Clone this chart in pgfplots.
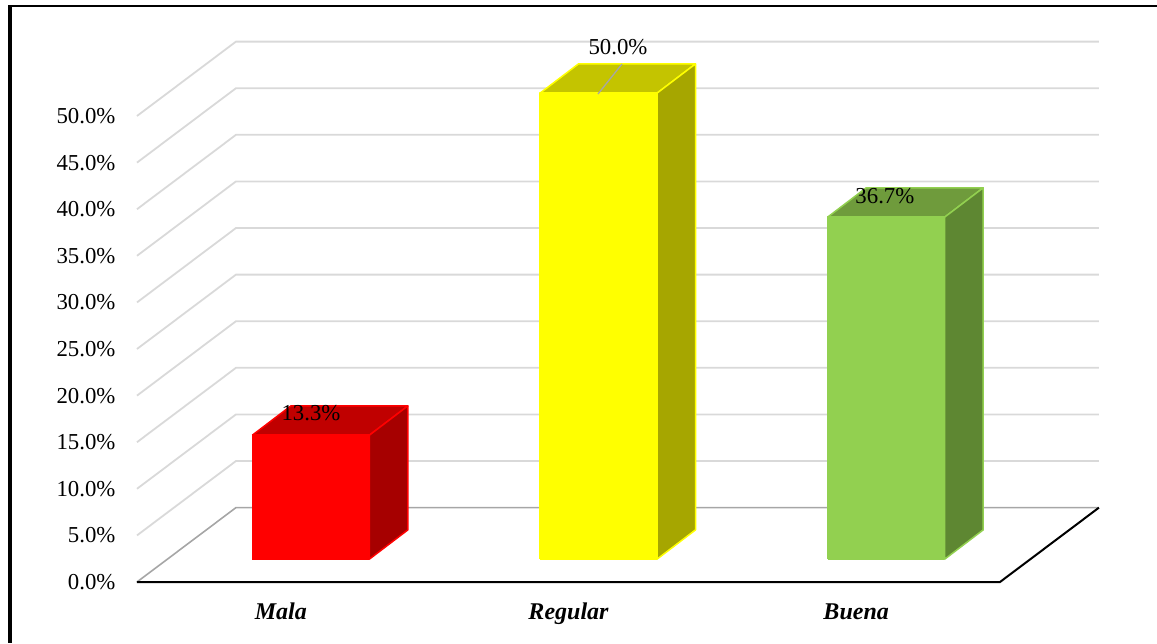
\documentclass[border=0pt]{standalone}
\usepackage{fontspec}
\setmainfont{Liberation Serif}
\usepackage{pgfplots}
\pgfplotsset{compat=1.18}

% Oblique projection of the chart box, in axis units
\def\wallDX{0.344}
\def\wallDY{7.98}
\def\barDX{0.1338}
\def\barDY{3.14}
\def\barOff{0.1043}
\def\barHalf{0.2034}
\def\barBase{2.45}

\definecolor{gridgrey}{HTML}{D9D9D9}
\definecolor{floorgrey}{HTML}{A6A6A6}
\definecolor{redfront}{HTML}{FF0000}
\definecolor{redtop}{HTML}{C00000}
\definecolor{redside}{HTML}{A60000}
\definecolor{yellowfront}{HTML}{FFFF00}
\definecolor{yellowtop}{HTML}{C4C400}
\definecolor{yellowside}{HTML}{A6A600}
\definecolor{greenfront}{HTML}{92D050}
\definecolor{greentop}{HTML}{6F9B3C}
\definecolor{greenside}{HTML}{5E8732}

% Draws one block: category position, value, front, top and side colours
\newcommand{\block}[5]{%
  \pgfmathsetmacro\xa{#1+\barOff-\barHalf}%
  \pgfmathsetmacro\xb{#1+\barOff+\barHalf}%
  \pgfmathsetmacro\xc{\xb+\barDX}%
  \pgfmathsetmacro\xd{\xa+\barDX}%
  \pgfmathsetmacro\ya{\barBase}%
  \pgfmathsetmacro\yb{\barBase+#2}%
  \pgfmathsetmacro\yc{\yb+\barDY}%
  \pgfmathsetmacro\ye{\ya+\barDY}%
  \addplot[forget plot,no marks,draw=#3,fill=#4,line width=1.5pt,line join=round]
    coordinates {(\xa,\yb)(\xb,\yb)(\xc,\yc)(\xd,\yc)(\xa,\yb)};
  \addplot[forget plot,no marks,draw=#3,fill=#5,line width=1.5pt,line join=round]
    coordinates {(\xb,\ya)(\xc,\ye)(\xc,\yc)(\xb,\yb)(\xb,\ya)};
  \addplot[forget plot,no marks,draw=#3,fill=#3,line width=1.5pt,line join=round]
    coordinates {(\xa,\ya)(\xb,\ya)(\xb,\yb)(\xa,\yb)(\xa,\ya)};
}

\begin{document}
\begin{tikzpicture}
\useasboundingbox (-137pt,-61pt) rectangle (1020pt,582pt);
\begin{axis}[
  at={(0pt,0pt)},anchor=south west,
  scale only axis,width=863pt,height=466pt,
  xmin=-0.5,xmax=2.5,ymin=0,ymax=50,
  clip=false,
  axis x line*=bottom,axis y line*=left,
  axis line style={draw=none,-},
  tick style={draw=none},
  xtick={0,1,2},
  xticklabels={Mala,Regular,Buena},
  x tick label style={font=\fontsize{24}{26}\selectfont\bfseries\itshape,anchor=base,yshift=-37pt},
  ytick={0,5,...,50},
  yticklabel={\pgfmathprintnumber[fixed,fixed zerofill,precision=1,assume math mode=true]{\tick}\%},
  y tick label style={font=\fontsize{22.8}{25}\selectfont,xshift=-18pt},
]
% Wall and side grid lines
\pgfplotsinvokeforeach{5,10,...,50}{
  \pgfmathsetmacro\gy{#1+\wallDY}
  \pgfmathsetmacro\gxa{-0.5+\wallDX}
  \pgfmathsetmacro\gxb{2.5+\wallDX}
  \addplot[forget plot,no marks,draw=gridgrey,line width=1.8pt]
    coordinates {(-0.5,#1)(\gxa,\gy)(\gxb,\gy)};
}
% Floor
\addplot[forget plot,no marks,draw=floorgrey,line width=1.6pt]
  coordinates {(-0.5,0)(-0.156,7.98)(2.844,7.98)};
\addplot[forget plot,no marks,draw=black,line width=2pt,line join=miter]
  coordinates {(-0.5,0)(2.5,0)(2.844,7.98)};
% Blocks
\block{0}{13.3}{redfront}{redtop}{redside}
\block{1}{50.0}{yellowfront}{yellowtop}{yellowside}
\block{2}{36.7}{greenfront}{greentop}{greenside}
% Leader line of the tallest block
\addplot[forget plot,no marks,draw=floorgrey,line width=1.3pt]
  coordinates {(1.1025,52.36)(1.186,55.58)};
% Value labels
\node[font=\fontsize{22.8}{25}\selectfont] at (axis cs:0.105,18.13) {13.3\%};
\node[font=\fontsize{22.8}{25}\selectfont] at (axis cs:1.172,57.40) {50.0\%};
\node[font=\fontsize{22.8}{25}\selectfont] at (axis cs:2.100,41.40) {36.7\%};
\end{axis}
% Outer frame, left and top sides only
\fill[black] (-129pt,-61pt) rectangle (-125pt,577pt);
\fill[black] (-129pt,574.5pt) rectangle (1020pt,577pt);
\end{tikzpicture}
\end{document}
